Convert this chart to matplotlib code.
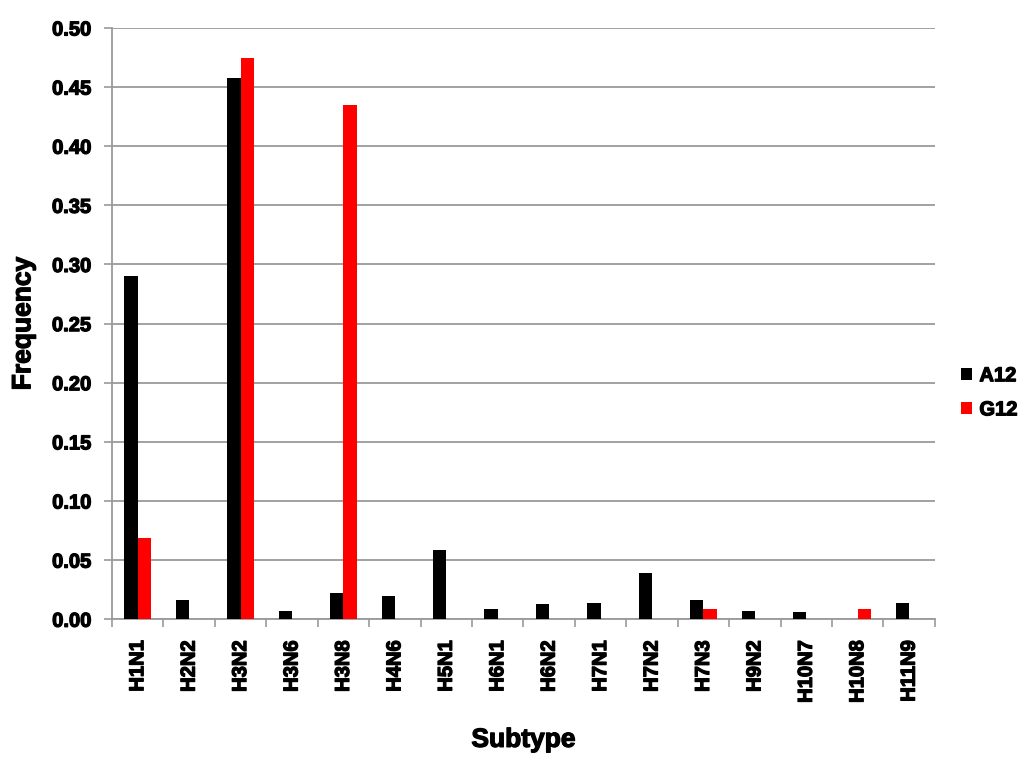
import matplotlib
matplotlib.use('Agg')
import matplotlib.pyplot as plt
import matplotlib.patheffects as pe
import numpy as np

# data
subtypes = ['H1N1', 'H2N2', 'H3N2', 'H3N6', 'H3N8', 'H4N6', 'H5N1', 'H6N1',
            'H6N2', 'H7N1', 'H7N2', 'H7N3', 'H9N2', 'H10N7', 'H10N8', 'H11N9']
a12 = [0.290, 0.016, 0.458, 0.007, 0.022, 0.020, 0.059, 0.009,
       0.013, 0.014, 0.039, 0.016, 0.007, 0.006, 0.0, 0.014]
g12 = [0.069, 0.0, 0.475, 0.0, 0.435, 0.0, 0.0, 0.0,
       0.0, 0.0, 0.0, 0.009, 0.0, 0.0, 0.009, 0.0]

plt.rcParams['font.family'] = ['Liberation Sans', 'DejaVu Sans']
plt.rcParams['font.weight'] = 'bold'

# heavier text, closer to the thick look of the original
heavy = [pe.withStroke(linewidth=0.9, foreground='black')]

fig = plt.figure(figsize=(10.24, 7.62), dpi=100, facecolor='white')
ax = fig.add_axes([0.1094, 0.1873, 0.8036, 0.776])

x = np.arange(len(subtypes))
w = 0.26
ax.bar(x - w / 2, a12, width=w, color='black', label='A12', zorder=3)
ax.bar(x + w / 2, g12, width=w, color='#FF0000', label='G12', zorder=3)

ax.set_xlim(-0.5, len(subtypes) - 0.5)
ax.set_ylim(0, 0.5)
yt = np.arange(0, 0.501, 0.05)
ax.set_yticks(yt)
ax.set_yticklabels([f'{v:.2f}' for v in yt], fontsize=14.5, fontweight='bold')
ax.yaxis.grid(True, color='#9a9a9a', lw=1.3, zorder=0)
ax.set_axisbelow(True)

# labels at centers, tick marks at category boundaries
ax.set_xticks(x)
ax.set_xticklabels(subtypes, rotation=90, fontsize=14.5, fontweight='bold')
ax.tick_params(axis='x', which='major', length=0, pad=15)
ax.set_xticks(np.arange(-0.5, len(subtypes)), minor=True)
ax.tick_params(axis='x', which='minor', length=6, width=1.2, color='#9a9a9a', direction='out')
ax.tick_params(axis='y', length=6, width=1.2, color='#9a9a9a', direction='out', pad=9)

for s in ['top', 'right']:
    ax.spines[s].set_visible(False)
for s in ['left', 'bottom']:
    ax.spines[s].set_color('#9a9a9a')
    ax.spines[s].set_linewidth(1.3)

ax.set_ylabel('Frequency', fontsize=19, fontweight='bold', labelpad=12)
ax.set_xlabel('Subtype', fontsize=19, fontweight='bold', labelpad=18)

leg = ax.legend(loc='center left', bbox_to_anchor=(1.01, 0.383), frameon=False,
                prop={'size': 14.5, 'weight': 'bold'}, handlelength=0.55,
                handleheight=0.55, handletextpad=0.35, labelspacing=0.75)

for t in (ax.get_xticklabels() + ax.get_yticklabels() + leg.get_texts()
          + [ax.xaxis.label, ax.yaxis.label]):
    t.set_path_effects(heavy)

fig.savefig('out.png', dpi=100, facecolor='white')
